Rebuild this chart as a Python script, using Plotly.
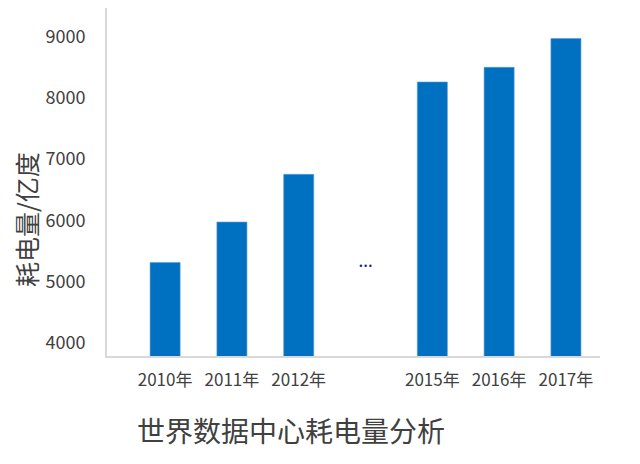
import plotly.graph_objects as go

# categories (the empty slot holds the "…" gap between 2012 and 2015)
years = ["2010年", "2011年", "2012年", "gap", "2015年", "2016年", "2017年"]
power = [5310, 5970, 6750, None, 8260, 8500, 8970]  # 亿度
gap_cat = ["gap"]
gap_val = [5240]

tick_vals = [4000, 5000, 6000, 7000, 8000, 9000]
tick_text = ["4000", "5000", "6000", "7000", "8000", "9000"]

FONT = "Noto Sans CJK SC"
TEXT_COLOR = "#404040"
BAR_COLOR = "#0070C0"
AXIS_COLOR = "#D9D9D9"

fig = go.Figure()

fig.add_trace(go.Bar(
    x=years,
    y=power,
    marker=dict(color=BAR_COLOR, line=dict(color="#5B9BD5", width=0.6)),
    showlegend=False,
))

# the little "•••" between 2012 and 2015
fig.add_trace(go.Scatter(
    x=gap_cat,
    y=gap_val,
    mode="text",
    text=["•••"],
    textfont=dict(family="DejaVu Sans", size=8, color="#0F1F7A"),
    showlegend=False,
    hoverinfo="skip",
))

# page body has an 8px default margin, so the figure is offset by 8px
fig.update_layout(
    width=640,
    height=464,
    paper_bgcolor="white",
    plot_bgcolor="white",
    margin=dict(l=99, r=48, t=0, b=116),
    bargap=0.55,
    font=dict(family=FONT, color=TEXT_COLOR),
    xaxis=dict(
        type="category",
        categoryorder="array",
        categoryarray=years,
        range=[-0.87, 6.51],
        tickmode="array",
        tickvals=years,
        ticktext=[y if y != "gap" else "" for y in years],
        tickfont=dict(size=17, color=TEXT_COLOR),
        showgrid=False,
        showline=True,
        linecolor=AXIS_COLOR,
        linewidth=2,
        ticks="",
        ticklabelstandoff=8,
        zeroline=False,
        automargin=False,
    ),
    yaxis=dict(
        range=[3780, 9470],
        tickmode="array",
        tickvals=tick_vals,
        ticktext=tick_text,
        tickfont=dict(size=18, color=TEXT_COLOR),
        showgrid=False,
        showline=True,
        linecolor=AXIS_COLOR,
        linewidth=2,
        ticks="",
        ticklabelstandoff=16,
        zeroline=False,
        automargin=False,
    ),
    annotations=[
        dict(
            text="耗电量/亿度",
            xref="paper", yref="paper",
            x=-0.164, y=0.391,
            xanchor="center", yanchor="middle",
            textangle=-90,
            showarrow=False,
            font=dict(size=25, color=TEXT_COLOR, family=FONT),
        ),
        dict(
            text="世界数据中心耗电量分析",
            xref="paper", yref="paper",
            x=0.057, y=-0.213,
            xanchor="left", yanchor="middle",
            showarrow=False,
            font=dict(size=28, color=TEXT_COLOR, family=FONT),
        ),
    ],
)

fig.write_html("out.html")
